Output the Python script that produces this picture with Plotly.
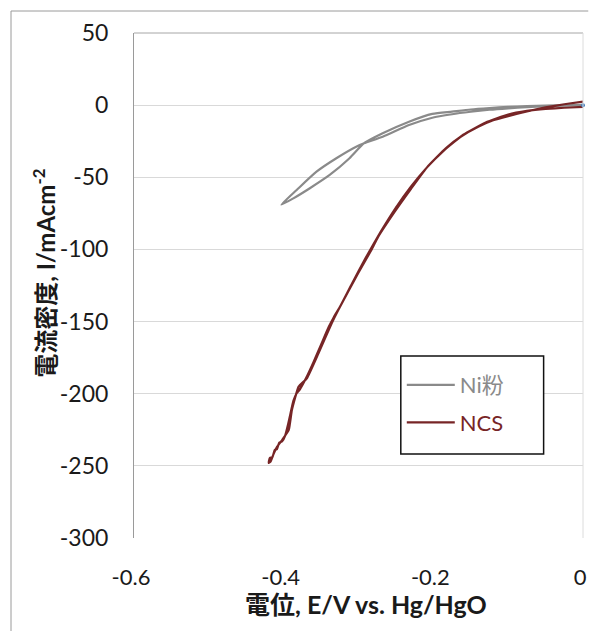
import plotly.graph_objects as go

# ---------------- data ----------------
ni_fwd_x = [0.0, -0.025, -0.05, -0.075, -0.10, -0.125, -0.15, -0.175, -0.2014, -0.2325,
            -0.2677, -0.2925, -0.312, -0.3385, -0.365, -0.387, -0.403]
ni_fwd_y = [0.2, -0.1, -0.3, -0.7, -1.2, -2.0, -3.0, -4.5, -6.1, -11.5,
            -19.5, -26.4, -36.8, -48.4, -57.6, -64.6, -69.0]
ni_ret_x = [-0.403, -0.3826, -0.3561, -0.3296, -0.3031, -0.2925, -0.2677, -0.2325, -0.2014,
            -0.175, -0.15, -0.125, -0.10, -0.075, -0.05, -0.025, 0.0]
ni_ret_y = [-69.0, -58.8, -46.1, -36.8, -28.8, -26.4, -21.9, -13.8, -8.7,
            -6.3, -4.6, -3.2, -2.2, -1.4, -0.8, -0.3, 0.0]

ncs_fwd_x = [0.0, -0.025, -0.05, -0.075, -0.10, -0.12, -0.14, -0.1635, -0.1834, -0.2077,
             -0.2298, -0.2518, -0.274, -0.2828, -0.3005, -0.327, -0.3358, -0.3535, -0.369,
             -0.38, -0.389, -0.3932, -0.4021, -0.4087, -0.4131, -0.4175, -0.42]
ncs_fwd_y = [2.5, 0.6, -1.6, -4.4, -7.6, -10.5, -15.0, -21.9, -29.9, -42.6,
             -58.0, -74.0, -91.5, -100.4, -116.5, -142.0, -151.2, -172.0, -189.3,
             -195.1, -211.3, -225.1, -232.1, -236.7, -241.3, -247.1, -248.0]
ncs_ret_x = [-0.42, -0.4185, -0.415, -0.412, -0.409, -0.406, -0.402, -0.398, -0.394, -0.391,
             -0.387, -0.383, -0.379, -0.374, -0.368, -0.36, -0.35, -0.34, -0.333, -0.325,
             -0.31, -0.29, -0.27, -0.25, -0.23, -0.21, -0.185, -0.16, -0.13, -0.10,
             -0.075, -0.05, -0.025, 0.0]
ncs_ret_y = [-248.0, -244.5, -244.0, -239.0, -238.5, -234.0, -233.0, -229.0, -221.0, -214.0,
             -205.0, -200.0, -197.5, -193.0, -187.0, -178.0, -166.0, -154.0, -147.0, -140.0,
             -125.0, -105.5, -87.5, -71.0, -56.5, -44.0, -31.0, -20.5, -12.0, -6.5,
             -4.0, -2.6, -1.8, -1.2]

origin_x = [0.0]
origin_y = [0.0]

series_names = ["Ni粉", "NCS"]
x_tickvals = [-0.6, -0.4, -0.2, 0.0]
x_ticktext = ["-0.6", "-0.4", "-0.2", "0"]
y_tickvals = [50, 0, -50, -100, -150, -200, -250, -300]
y_ticktext = ["50", "0", "-50", "-100", "-150", "-200", "-250", "-300"]
x_title = "電位, E/V vs. Hg/HgO"
y_title = "電流密度, I/mAcm<sup>-2</sup>"

GRAY = "#8a8a8a"
RED = "#772526"
FONT = "Lato, 'Noto Sans CJK JP', sans-serif"

fig = go.Figure()
fig.add_trace(go.Scatter(
    x=ni_fwd_x + ni_ret_x[1:], y=ni_fwd_y + ni_ret_y[1:], mode="lines",
    line=dict(color=GRAY, width=2.2, shape="spline", smoothing=0.6),
    name=f"<span style='color:{GRAY}'>{series_names[0]}</span>",
    legendgroup="a"))
fig.add_trace(go.Scatter(
    x=ncs_fwd_x + ncs_ret_x[1:], y=ncs_fwd_y + ncs_ret_y[1:], mode="lines",
    line=dict(color=RED, width=2.2, shape="spline", smoothing=0.4),
    name=f"<span style='color:{RED}'>{series_names[1]}</span>",
    legendgroup="b"))
fig.add_trace(go.Scatter(
    x=origin_x, y=origin_y, mode="markers",
    marker=dict(color="#4a7ebb", size=4), showlegend=False, cliponaxis=False))

# plot-area geometry (pixels)
L, R, T, B = 134, 586.7, 33, 538
W, H = 593, 632
pw, ph = R - L, B - T


def px(x):
    return (x - L) / pw


def py(y):
    return (B - y) / ph


fig.update_layout(
    width=W, height=H,
    margin=dict(l=L, r=W - R, t=T, b=H - B, pad=0),
    paper_bgcolor="white", plot_bgcolor="white",
    font=dict(family=FONT, size=22, color="#1a1a1a"),
    showlegend=True,
    legend=dict(
        x=px(404), y=py(364), xanchor="left", yanchor="top",
        bgcolor="rgba(0,0,0,0)", borderwidth=0,
        font=dict(size=22, family=FONT),
        traceorder="grouped", tracegroupgap=6, itemwidth=48,
    ),
    xaxis=dict(
        range=[-0.6, 0.0], tickvals=x_tickvals, ticktext=x_ticktext,
        showgrid=False, zeroline=False, showline=False, ticks="",
        ticklabelstandoff=24, ticklabelshift=-3,
        tickfont=dict(size=22, color="#1a1a1a"),
    ),
    yaxis=dict(
        range=[-300, 50], tickvals=y_tickvals, ticktext=y_ticktext,
        showgrid=True, gridcolor="#d9d9d9", gridwidth=1,
        zeroline=False, showline=True, linecolor="#9a9a9a", linewidth=1,
        ticks="", ticklabelstandoff=20,
        tickfont=dict(size=23, color="#1a1a1a"),
    ),
    shapes=[
        # outer chart border (top and left edges; the others lie outside the picture)
        dict(type="line", xref="paper", yref="paper",
             x0=px(10), x1=px(592), y0=py(11), y1=py(11),
             line=dict(color="#9a9a9a", width=1), layer="below"),
        dict(type="line", xref="paper", yref="paper",
             x0=px(10), x1=px(10), y0=py(11), y1=py(631),
             line=dict(color="#9a9a9a", width=1), layer="below"),
        # top & right edges of plot area
        dict(type="line", xref="paper", yref="paper", x0=0, x1=1, y0=1, y1=1,
             line=dict(color="#a6a6a6", width=1)),
        dict(type="line", xref="paper", yref="paper", x0=1, x1=1, y0=0, y1=1,
             line=dict(color="#dcdcdc", width=1)),
        # legend box
        dict(type="rect", xref="paper", yref="paper",
             x0=px(403), x1=px(547), y0=py(454), y1=py(356),
             line=dict(color="#111111", width=1.5), fillcolor="white", layer="above"),
    ],
    annotations=[
        dict(text=f"<b>{x_title}</b>", xref="paper", yref="paper",
             x=px(368), y=py(604), showarrow=False, xanchor="center", yanchor="middle",
             font=dict(size=25, family=FONT, color="#1a1a1a")),
        dict(text=f"<b>{y_title}</b>", xref="paper", yref="paper",
             x=px(43), y=py(273), showarrow=False, xanchor="center", yanchor="middle",
             textangle=-90, font=dict(size=24, family=FONT, color="#1a1a1a")),
    ],
)

fig.write_html(
    "out.html", config={"displayModeBar": False},
    post_script=("document.documentElement.style.overflow='hidden';"
                 "document.body.style.margin='0';"
                 "document.body.style.overflow='hidden';"))
